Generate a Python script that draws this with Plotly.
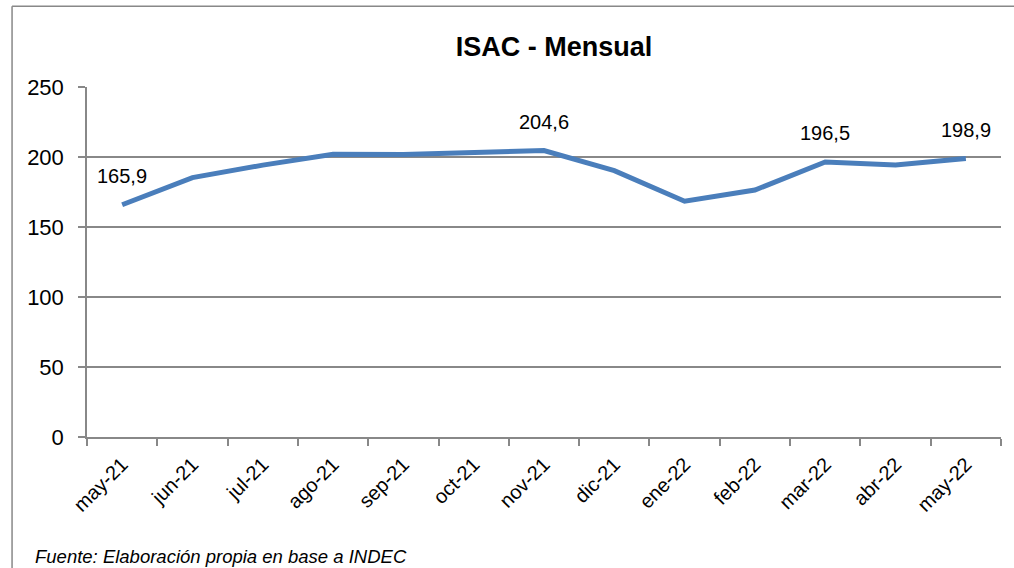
import plotly.graph_objects as go

# ------------------------------------------------------------------ #
# Data
# ------------------------------------------------------------------ #
MONTHS = ["may-21", "jun-21", "jul-21", "ago-21", "sep-21", "oct-21", "nov-21",
          "dic-21", "ene-22", "feb-22", "mar-22", "abr-22", "may-22"]
ISAC = [165.9, 185.3, 194.2, 202.0, 201.8, 203.0, 204.6,
        190.2, 168.4, 176.4, 196.5, 194.3, 198.9]
LABELED = ["may-21", "nov-21", "mar-22", "may-22"]
Y_TICKS = [0, 50, 100, 150, 200, 250]

# ------------------------------------------------------------------ #
# Style
# ------------------------------------------------------------------ #
FONT = "Liberation Sans, Arial, sans-serif"
BLUE = "#4A7EBB"
GRID = "#888888"
INK = "#000000"

fig = go.Figure()
fig.add_trace(go.Scatter(
    x=MONTHS, y=ISAC, mode="lines",
    line=dict(color=BLUE, width=5),
    hoverinfo="skip", showlegend=False,
))

for m, v in zip(MONTHS, ISAC):
    if m in LABELED:
        fig.add_annotation(
            x=m, y=v, text=f"{v:.1f}".replace(".", ","),
            showarrow=False, yshift=29,
            font=dict(family=FONT, size=20, color=INK),
        )

# chart frame: only the left and top edges fall inside the crop
frame = dict(color=GRID, width=1.5)
fig.add_shape(type="line", xref="paper", yref="paper",
              x0=-0.082, x1=-0.082, y0=-0.5, y1=1.231, line=frame, layer="below")
fig.add_shape(type="line", xref="paper", yref="paper",
              x0=-0.082, x1=1.05, y0=1.231, y1=1.231, line=frame, layer="below")

fig.add_annotation(
    text="Fuente: Elaboración propia en base a INDEC",
    xref="paper", yref="paper", x=(33 - 87) / 914, y=-(557 - 437.5) / 350.5,
    xanchor="left", yanchor="middle", showarrow=False,
    font=dict(family=FONT, size=18.5, color=INK, style="italic"),
)

fig.update_layout(
    width=1014, height=568,
    margin=dict(l=87, r=13, t=87, b=130.5),
    paper_bgcolor="white", plot_bgcolor="white",
    title=dict(text="<b>ISAC - Mensual</b>", x=(554 - 87) / 914, xref="paper",
               xanchor="center", y=1 - 47 / 568, yanchor="middle",
               font=dict(family=FONT, size=27, color=INK)),
    font=dict(family=FONT, size=20, color=INK),
    xaxis=dict(
        type="category", tickson="boundaries", showgrid=False,
        showline=True, linecolor=GRID, linewidth=1.5,
        ticks="outside", ticklen=7, tickcolor=GRID, tickwidth=1.5,
        tickangle=-45, ticklabelstandoff=6,
        tickfont=dict(family=FONT, size=20, color=INK),
        range=[-0.5, len(MONTHS) - 0.5],
    ),
    yaxis=dict(
        range=[0, 250], tickvals=Y_TICKS, showgrid=True,
        gridcolor=GRID, gridwidth=1.5, zeroline=False,
        showline=True, linecolor=GRID, linewidth=1.5,
        ticks="outside", ticklen=7, tickcolor=GRID, tickwidth=1.5,
        ticklabelstandoff=10,
        tickfont=dict(family=FONT, size=22, color=INK),
    ),
)

fig.write_html(
    "out.html",
    config=dict(displayModeBar=False),
    post_script="document.body.style.margin='0';document.body.style.overflow='hidden';",
)
